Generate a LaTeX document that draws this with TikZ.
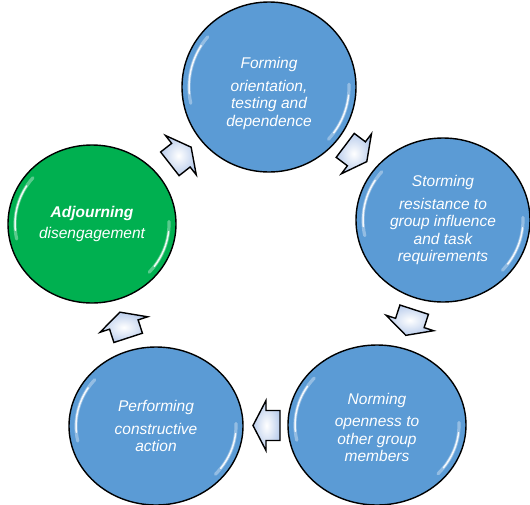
\documentclass[tikz,border=0pt]{standalone}
\usepackage{fontspec}
\setmainfont{Liberation Sans}
\usetikzlibrary{shapes.geometric,calc}
\definecolor{stageblue}{RGB}{91,155,213}
\definecolor{stagegreen}{RGB}{0,176,80}
\definecolor{arrowfill}{RGB}{186,205,236}
\newcommand\glossyrim[3]{%
  \begin{scope}[shift={(#1.center)}]
    \draw[shine, line width=3.2pt, opacity=0.35] (140:#2 and #3) arc[start angle=140, end angle=192, x radius=#2, y radius=#3];
    \draw[shine, line width=1.5pt, opacity=0.9] (148:#2 and #3) arc[start angle=148, end angle=185, x radius=#2, y radius=#3];
    \draw[shine, line width=3.2pt, opacity=0.35] (2:#2 and #3) arc[start angle=2, end angle=-42, x radius=#2, y radius=#3];
    \draw[shine, line width=1.5pt, opacity=0.9] (-6:#2 and #3) arc[start angle=-6, end angle=-36, x radius=#2, y radius=#3];
  \end{scope}}
\newcommand\cyclearrowat[2]{%
  \begin{scope}[shift={(#1)}, rotate=#2]
    \draw[arrowblk] (-13.5pt,-15pt) -- (0.5pt,-15pt) -- (0.5pt,-25pt) -- (13.5pt,0pt)
      -- (0.5pt,25pt) -- (0.5pt,15pt) -- (-13.5pt,15pt) -- cycle;
  \end{scope}}
\begin{document}
\begin{tikzpicture}[x=1pt,y=-1pt,
  stage/.style={ellipse, draw=black, line width=1.4pt, fill=stageblue, inner sep=0pt,
    text=white, align=center, font=\fontsize{15.5}{17.5}\selectfont\itshape},
  arrowblk/.style={draw=black, line width=1.4pt, line join=miter,
    shading=radial, inner color=white, outer color=arrowfill},
  shine/.style={white, line cap=round}
]
\useasboundingbox (0,0) rectangle (530,504);

\node[stage, minimum width=174pt, minimum height=170pt] (forming) at (269,87)
  {\rule{0pt}{24pt}Forming\\[5pt]orientation,\\testing and\\dependence};
\node[stage, minimum width=174pt, minimum height=164pt] (storming) at (443,220)
  {Storming\\[5pt]resistance to\\group influence\\and task\\requirements};
\node[stage, minimum width=178pt, minimum height=160pt] (norming) at (377,425)
  {\rule{0pt}{16pt}Norming\\[5pt]openness to\\other group\\members};
\node[stage, minimum width=174pt, minimum height=158pt] (performing) at (156,426)
  {Performing\\[5pt]constructive\\action};
\node[stage, fill=stagegreen, minimum width=168pt, minimum height=158pt] (adjourning) at (92,224)
  {\textbf{Adjourning}\\[4pt]disengagement};

\glossyrim{forming}{80pt}{78pt}
\glossyrim{storming}{80pt}{75pt}
\glossyrim{norming}{82pt}{73pt}
\glossyrim{performing}{80pt}{72pt}
\glossyrim{adjourning}{77pt}{72pt}

\coordinate (a1) at ($(forming)!0.5!(storming)$);
\coordinate (a2) at ($(storming)!0.5!(norming)$);
\coordinate (a3) at ($(norming)!0.5!(performing)$);
\coordinate (a4) at ($(performing)!0.5!(adjourning)$);
\coordinate (a5) at ($(adjourning)!0.5!(forming)$);
\cyclearrowat{a1}{-37}
\cyclearrowat{a2}{-108}
\cyclearrowat{a3}{180}
\cyclearrowat{a4}{108}
\cyclearrowat{a5}{38}
\end{tikzpicture}
\end{document}
